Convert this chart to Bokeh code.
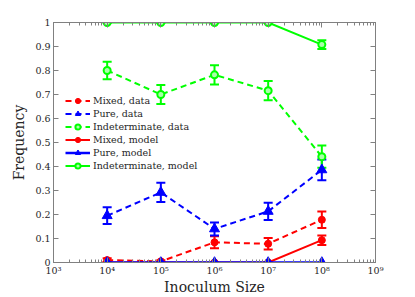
from bokeh.plotting import figure
from bokeh.models import (FixedTicker, CustomJSTickFormatter, LogAxis, LinearAxis,
                          Whisker, ColumnDataSource, Legend, LegendItem, TeeHead)
from bokeh.embed import file_html
from bokeh.resources import INLINE

# ---- data ----
inoculum = [1e4, 1e5, 1e6, 1e7, 1e8]

mixed_data = [0.010, 0.005, 0.084, 0.078, 0.178]
mixed_data_err = [0.008, 0.004, 0.025, 0.024, 0.034]
pure_data = [0.195, 0.292, 0.140, 0.213, 0.386]
pure_data_err = [0.035, 0.040, 0.027, 0.036, 0.043]
indet_data = [0.800, 0.700, 0.782, 0.716, 0.441]
indet_data_err = [0.036, 0.040, 0.040, 0.040, 0.046]

mixed_model = [0.0, 0.0, 0.0, 0.0, 0.093]
mixed_model_err = [0.0, 0.0, 0.0, 0.0, 0.020]
pure_model = [0.0, 0.0, 0.0, 0.0, 0.0]
indet_model = [1.0, 1.0, 1.0, 1.0, 0.908]
indet_model_err = [0.0, 0.0, 0.0, 0.0, 0.018]

x_ticks = [1e3, 1e4, 1e5, 1e6, 1e7, 1e8, 1e9]
y_ticks = [0.0, 0.1, 0.2, 0.3, 0.4, 0.5, 0.6, 0.7, 0.8, 0.9, 1.0]

legend_labels = ["Mixed, data", "Pure, data", "Indeterminate, data",
                 "Mixed, model", "Pure, model", "Indeterminate, model"]

RED, BLUE, GREEN = "#ff0000", "#0000ff", "#00ff00"
FONT = "DejaVu Serif"
AX = "#808080"

p = figure(width=405, height=297, x_axis_type="log", x_range=(1e3, 1e9), y_range=(0, 1),
           output_backend="svg", toolbar_location=None,
           min_border_left=53, min_border_top=22, min_border_right=30, min_border_bottom=33)
p.xgrid.visible = False
p.ygrid.visible = False
p.outline_line_color = AX
p.background_fill_color = "white"

minor = [m * 10 ** e for e in range(3, 9) for m in range(2, 10)]
xt = FixedTicker(ticks=x_ticks, minor_ticks=minor)
yt = FixedTicker(ticks=y_ticks, minor_ticks=[])
sup_code = """
const s = {'0':'\u2070','1':'\u00b9','2':'\u00b2','3':'\u00b3','4':'\u2074','5':'\u2075','6':'\u2076','7':'\u2077','8':'\u2078','9':'\u2079'};
const e = String(Math.round(Math.log10(tick)));
return '10' + e.split('').map(c => s[c]).join('');
"""
xfmt = CustomJSTickFormatter(code=sup_code)
yfmt = CustomJSTickFormatter(code="return String(Number(tick.toFixed(1)));")

def style(ax, labels=True):
    ax.axis_line_color = AX
    ax.major_tick_line_color = AX
    ax.minor_tick_line_color = AX
    ax.major_tick_in = 5
    ax.major_tick_out = 0
    ax.minor_tick_in = 3
    ax.minor_tick_out = 0
    ax.major_label_text_font = FONT
    ax.major_label_text_font_size = "9.5px"
    ax.major_label_text_color = "#262626"
    ax.major_label_standoff = 2
    ax.axis_label_text_font = FONT
    ax.axis_label_text_font_size = "14px"
    ax.axis_label_text_font_style = "normal"
    ax.axis_label_text_color = "#262626"
    if not labels:
        ax.major_label_text_alpha = 0
        ax.major_label_text_font_size = "1px"

xa = p.xaxis[0]
xa.ticker = xt
xa.formatter = xfmt
style(xa)
xa.axis_label = "Inoculum Size"
xa.axis_label_standoff = 0

ya = p.yaxis[0]
ya.ticker = yt
ya.formatter = yfmt
style(ya)
ya.major_label_standoff = 3
ya.axis_label = "Frequency"
ya.axis_label_standoff = 5

top = LogAxis(ticker=xt, formatter=xfmt)
style(top, labels=False)
p.add_layout(top, "above")
right = LinearAxis(ticker=yt, formatter=yfmt)
style(right, labels=False)
p.add_layout(right, "right")

def errbar(y, err, color):
    lo = [a - b for a, b in zip(y, err)]
    hi = [a + b for a, b in zip(y, err)]
    src = ColumnDataSource(dict(x=inoculum, lo=lo, hi=hi))
    w = Whisker(source=src, base="x", lower="lo", upper="hi", dimension="height",
                line_color=color, line_width=2,
                upper_head=TeeHead(size=9, line_color=color, line_width=2),
                lower_head=TeeHead(size=9, line_color=color, line_width=2))
    p.add_layout(w)

items = []
dash = "6 4"
# data series
errbar(mixed_data, mixed_data_err, RED)
l1 = p.line(inoculum, mixed_data, line_color=RED, line_width=2, line_dash=dash)
m1 = p.scatter(inoculum, mixed_data, marker="circle", size=7, fill_color=RED, line_color=RED)
items.append(LegendItem(label=legend_labels[0], renderers=[l1, m1]))

errbar(pure_data, pure_data_err, BLUE)
l2 = p.line(inoculum, pure_data, line_color=BLUE, line_width=2, line_dash=dash)
m2 = p.scatter(inoculum, pure_data, marker="triangle", size=10, fill_color=BLUE, line_color=BLUE)
items.append(LegendItem(label=legend_labels[1], renderers=[l2, m2]))

errbar(indet_data, indet_data_err, GREEN)
l3 = p.line(inoculum, indet_data, line_color=GREEN, line_width=2, line_dash=dash)
m3 = p.scatter(inoculum, indet_data, marker="circle", size=7, fill_color="#aaffaa",
               line_color=GREEN, line_width=2)
items.append(LegendItem(label=legend_labels[2], renderers=[l3, m3]))

# model series
errbar(mixed_model, mixed_model_err, RED)
l4 = p.line(inoculum, mixed_model, line_color=RED, line_width=2)
m4 = p.scatter(inoculum, mixed_model, marker="circle", size=7, fill_color=RED, line_color=RED)
items.append(LegendItem(label=legend_labels[3], renderers=[l4, m4]))

l5 = p.line(inoculum, pure_model, line_color=BLUE, line_width=2.5)
m5 = p.scatter(inoculum, pure_model, marker="triangle", size=10, fill_color=BLUE, line_color=BLUE)
items.append(LegendItem(label=legend_labels[4], renderers=[l5, m5]))

errbar(indet_model, indet_model_err, GREEN)
l6 = p.line(inoculum, indet_model, line_color=GREEN, line_width=2)
m6 = p.scatter(inoculum, indet_model, marker="circle", size=7, fill_color="#aaffaa",
               line_color=GREEN, line_width=2)
items.append(LegendItem(label=legend_labels[5], renderers=[l6, m6]))

leg = Legend(items=items, location=(10, 88), glyph_width=25, glyph_height=13,
             label_height=13, label_standoff=3, spacing=0, padding=2, margin=0,
             label_text_font=FONT, label_text_font_size="9.5px", label_text_color="#262626",
             border_line_alpha=0, background_fill_alpha=0)
p.add_layout(leg, "center")

open("out.html", "w").write(file_html(p, INLINE))
